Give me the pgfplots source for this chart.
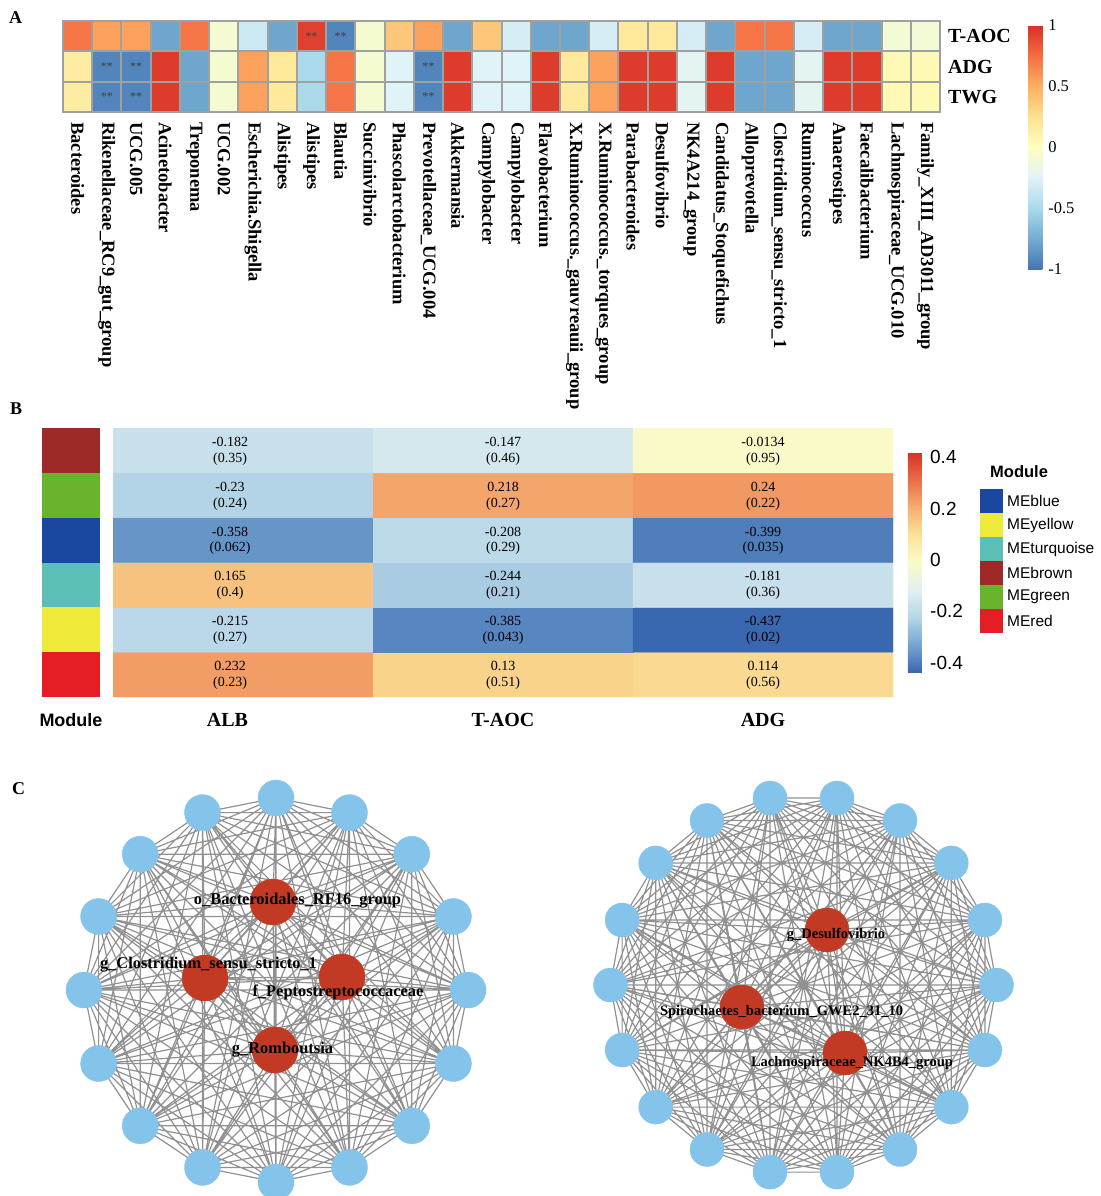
\documentclass[border=0pt]{standalone}
\usepackage{fontspec}
\setmainfont{Liberation Serif}
\setsansfont{Liberation Sans}
\usepackage{pgfplots}
\usepackage{pgfplotstable}
\pgfplotsset{compat=1.18}

\definecolor{gridgray}{RGB}{160,160,160}
\definecolor{nodeblue}{RGB}{133,196,234}
\definecolor{nodered}{RGB}{194,57,36}
\definecolor{edgegray}{RGB}{145,145,145}
\definecolor{meblue}{RGB}{26,71,160}
\definecolor{meyellow}{RGB}{238,234,58}
\definecolor{meturquoise}{RGB}{92,191,182}
\definecolor{mebrown}{RGB}{157,42,40}
\definecolor{megreen}{RGB}{106,180,45}
\definecolor{mered}{RGB}{228,30,36}

\pgfplotsset{
  colormap={rdylbu}{rgb255(0cm)=(69,117,180) rgb255(1cm)=(116,173,209) rgb255(2cm)=(171,217,233)
    rgb255(3cm)=(224,243,248) rgb255(4cm)=(255,255,191) rgb255(5cm)=(254,224,144)
    rgb255(6cm)=(253,174,97) rgb255(7cm)=(244,109,67) rgb255(8cm)=(215,48,39)},
  colormap={modcor}{rgb255(0cm)=(58,104,176) rgb255(1cm)=(120,165,208) rgb255(2cm)=(183,214,232)
    rgb255(3cm)=(226,240,240) rgb255(4cm)=(250,250,198) rgb255(5cm)=(251,226,152)
    rgb255(6cm)=(245,172,112) rgb255(7cm)=(232,110,72) rgb255(8cm)=(215,48,39)},
}

\newcommand\fz[2]{\fontsize{#1}{#2}\selectfont}

% A: correlation of genera with T-AOC / ADG / TWG (y=3,2,1)
\pgfplotstableread[row sep=\\]{
x y c\\
1 1 0.15\\ 2 1 -0.93\\ 3 1 -0.93\\ 4 1 0.95\\ 5 1 -0.78\\ 6 1 -0.08\\ 7 1 0.55\\ 8 1 0.18\\ 9 1 -0.5\\ 10 1 0.72\\
11 1 -0.08\\ 12 1 -0.25\\ 13 1 -0.93\\ 14 1 0.95\\ 15 1 -0.25\\ 16 1 -0.25\\ 17 1 0.95\\ 18 1 0.18\\ 19 1 0.55\\ 20 1 0.95\\
21 1 0.95\\ 22 1 -0.22\\ 23 1 0.95\\ 24 1 -0.78\\ 25 1 -0.78\\ 26 1 -0.22\\ 27 1 0.95\\ 28 1 0.95\\ 29 1 0.05\\ 30 1 0.05\\
1 2 0.15\\ 2 2 -0.93\\ 3 2 -0.93\\ 4 2 0.95\\ 5 2 -0.78\\ 6 2 -0.08\\ 7 2 0.55\\ 8 2 0.18\\ 9 2 -0.5\\ 10 2 0.72\\
11 2 -0.08\\ 12 2 -0.25\\ 13 2 -0.93\\ 14 2 0.95\\ 15 2 -0.25\\ 16 2 -0.25\\ 17 2 0.95\\ 18 2 0.18\\ 19 2 0.55\\ 20 2 0.95\\
21 2 0.95\\ 22 2 -0.22\\ 23 2 0.95\\ 24 2 -0.78\\ 25 2 -0.78\\ 26 2 -0.22\\ 27 2 0.95\\ 28 2 0.95\\ 29 2 0.05\\ 30 2 0.05\\
1 3 0.72\\ 2 3 0.55\\ 3 3 0.55\\ 4 3 -0.78\\ 5 3 0.72\\ 6 3 -0.08\\ 7 3 -0.35\\ 8 3 -0.78\\ 9 3 0.93\\ 10 3 -0.93\\
11 3 -0.08\\ 12 3 0.38\\ 13 3 0.55\\ 14 3 -0.78\\ 15 3 0.38\\ 16 3 -0.3\\ 17 3 -0.78\\ 18 3 -0.78\\ 19 3 -0.3\\ 20 3 0.18\\
21 3 0.18\\ 22 3 -0.3\\ 23 3 -0.78\\ 24 3 0.72\\ 25 3 0.72\\ 26 3 -0.3\\ 27 3 -0.78\\ 28 3 -0.78\\ 29 3 -0.1\\ 30 3 -0.1\\
}\heatA

% B: module-trait correlations
\pgfplotstableread{
x y c
1 1 0.232
2 1 0.13
3 1 0.114
1 2 -0.215
2 2 -0.385
3 2 -0.437
1 3 0.165
2 3 -0.244
3 3 -0.181
1 4 -0.358
2 4 -0.208
3 4 -0.399
1 5 -0.23
2 5 0.218
3 5 0.24
1 6 -0.182
2 6 -0.147
3 6 -0.0134
}\heatB

\pgfplotstableread{
x y r p
0.95 6 -0.182 0.35
2 6 -0.147 0.46
3 6 -0.0134 0.95
0.95 5 -0.23 0.24
2 5 0.218 0.27
3 5 0.24 0.22
0.95 4 -0.358 0.062
2 4 -0.208 0.29
3 4 -0.399 0.035
0.95 3 0.165 0.4
2 3 -0.244 0.21
3 3 -0.181 0.36
0.95 2 -0.215 0.27
2 2 -0.385 0.043
3 2 -0.437 0.02
0.95 1 0.232 0.23
2 1 0.13 0.51
3 1 0.114 0.56
}\labB

% C: network node positions (ring first, hubs last)
\pgfplotstableread{
x y
276 798
349.5 812.6
411.8 854.2
453.4 916.5
468 990
453.4 1063.5
411.8 1125.8
349.5 1167.4
276 1182
202.5 1167.4
140.2 1125.8
98.6 1063.5
84 990
98.6 916.5
140.2 854.2
202.5 812.6
273 902
205 978
342 977
275 1050
}\netL

\pgfplotstableread{
x y
837 798
900 820.5
951.3 862.9
984.9 920
996.5 985
984.9 1050
951.3 1107.1
900 1149.5
837 1172.1
770 1172.1
707 1149.5
655.7 1107.1
622.1 1050
610.5 985
622.1 920
655.7 862.9
707 820.5
770 798
827 930
742 1007
845 1053
}\netR

% every pair of nodes gets an edge
\newcommand\buildedges[2]{%
  \pgfplotstablegetrowsof{#1}%
  \pgfmathtruncatemacro\nlast{\pgfplotsretval-1}%
  \foreach \k in {0,...,\nlast}{%
    \pgfplotstablegetelem{\k}{x}\of#1\expandafter\xdef\csname ex\k\endcsname{\pgfplotsretval}%
    \pgfplotstablegetelem{\k}{y}\of#1\expandafter\xdef\csname ey\k\endcsname{\pgfplotsretval}%
  }%
  \gdef#2{}%
  \foreach \i in {0,...,\nlast}{%
    \foreach \j in {0,...,\nlast}{%
      \ifnum\j>\i
        \xdef#2{#2(\csname ex\i\endcsname,\csname ey\i\endcsname)(\csname ex\j\endcsname,\csname ey\j\endcsname)(nan,nan)}%
      \fi
    }%
  }%
}
\buildedges{\netL}{\edgesL}
\buildedges{\netR}{\edgesR}

\begin{document}
\begin{tikzpicture}
\path[use as bounding box] (0pt,0pt) rectangle (1100pt,-1196pt);

\node[anchor=base west, inner sep=0pt, font=\bfseries\fz{18}{20}] at (9pt,-24pt) {A};
\node[anchor=base west, inner sep=0pt, font=\bfseries\fz{18}{20}] at (10pt,-414pt) {B};
\node[anchor=base west, inner sep=0pt, font=\bfseries\fz{18}{20}] at (12pt,-794pt) {C};

% ---------- A ----------
\begin{axis}[
  at={(63pt,-112pt)}, anchor=south west,
  scale only axis, width=877pt, height=91pt,
  xmin=0.5, xmax=30.5, ymin=0.5, ymax=3.5,
  colormap name=rdylbu, point meta min=-1, point meta max=1,
  axis on top,
  axis line style={draw=gridgray, line width=2pt},
  major tick length=0pt, minor tick length=0pt,
  xtick={1,...,30},
  xticklabels={Bacteroides,Rikenellaceae\_RC9\_gut\_group,UCG.005,Acinetobacter,Treponema,UCG.002,Escherichia.Shigella,Alistipes,Alistipes,Blautia,Succinivibrio,Phascolarctobacterium,Prevotellaceae\_UCG.004,Akkermansia,Campylobacter,Campylobacter,Flavobacterium,X.Ruminococcus.\_gauvreauii\_group,X.Ruminococcus.\_torques\_group,Parabacteroides,Desulfovibrio,NK4A214\_group,Candidatus\_Stoquefichus,Alloprevotella,Clostridium\_sensu\_stricto\_1,Ruminococcus,Anaerostipes,Faecalibacterium,Lachnospiraceae\_UCG.010,Family\_XIII\_AD3011\_group},
  ytick={1,2,3}, yticklabels={TWG,ADG,T-AOC},
  yticklabel pos=right,
  minor xtick={0.5,1.5,...,30.5}, minor ytick={0.5,1.5,2.5,3.5},
  xminorgrids=true, yminorgrids=true,
  minor grid style={draw=gridgray, line width=2pt},
  xticklabel style={rotate=-90, anchor=west, inner xsep=10pt, inner ysep=0pt, font=\bfseries\fz{18.5}{20}},
  yticklabel style={anchor=west, inner xsep=8pt, inner ysep=0pt, font=\bfseries\fz{20}{22}},
  colorbar,
  colorbar style={
    at={(1.1004,0.956)}, anchor=north west,
    scale only axis, width=17pt, height=244pt,
    xtick=\empty, xminorgrids=false, yminorgrids=false,
    ytick={-1,-0.5,0,0.5,1}, yticklabels={-1,-0.5,0,0.5,1},
    major tick length=0pt, axis line style={draw=none},
    yticklabel style={anchor=west, inner xsep=3pt, inner ysep=0pt, font=\mdseries\fz{16.5}{18}},
  },
]
\addplot[matrix plot*, mesh/cols=30, point meta=explicit] table[meta=c] {\heatA};
\addplot[only marks, mark=none, nodes near coords={**},
  every node near coord/.append style={anchor=center, inner sep=0pt, text=black!75, font=\fz{12}{12}}]
  coordinates {(9,3) (10,3) (2,2) (3,2) (13,2) (2,1) (3,1) (13,1)};
\end{axis}

% ---------- B ----------
\begin{axis}[
  at={(42pt,-697pt)}, anchor=south west,
  scale only axis, width=58pt, height=269pt,
  xmin=0, xmax=1, ymin=0, ymax=6,
  axis line style={draw=none}, major tick length=0pt,
  ytick=\empty, xtick={0.5}, xticklabels={Module},
  xticklabel style={inner sep=0pt, yshift=-16pt, font=\sffamily\bfseries\fz{18}{20}},
]
\addplot[fill=mebrown, draw=none] coordinates {(0,5) (1,5) (1,6) (0,6)};
\addplot[fill=megreen, draw=none] coordinates {(0,4) (1,4) (1,5) (0,5)};
\addplot[fill=meblue, draw=none] coordinates {(0,3) (1,3) (1,4) (0,4)};
\addplot[fill=meturquoise, draw=none] coordinates {(0,2) (1,2) (1,3) (0,3)};
\addplot[fill=meyellow, draw=none] coordinates {(0,1) (1,1) (1,2) (0,2)};
\addplot[fill=mered, draw=none] coordinates {(0,0) (1,0) (1,1) (0,1)};
\end{axis}

\begin{axis}[
  at={(113pt,-697pt)}, anchor=south west,
  scale only axis, width=780pt, height=269pt,
  xmin=0.5, xmax=3.5, ymin=0.5, ymax=6.5,
  colormap name=modcor, point meta min=-0.437, point meta max=0.42,
  axis line style={draw=none}, major tick length=0pt,
  xtick={0.94,2,3}, xticklabels={ALB,T-AOC,ADG}, ytick=\empty,
  xticklabel style={inner sep=0pt, yshift=-16pt, font=\bfseries\fz{20}{22}},
  colorbar,
  colorbar style={
    at={(1.0192,0.9108)}, anchor=north west,
    scale only axis, width=14pt, height=220pt,
    xtick=\empty,
    ytick={-0.4,-0.2,0,0.2,0.4}, yticklabels={-0.4,-0.2,0,0.2,0.4},
    major tick length=0pt, axis line style={draw=none},
    yticklabel style={anchor=west, inner xsep=8pt, inner ysep=0pt, font=\sffamily\mdseries\fz{19}{22}},
  },
]
\addplot[matrix plot*, mesh/cols=3, point meta=explicit] table[meta=c] {\heatB};
\addplot[only marks, mark=none, point meta=explicit symbolic, nodes near coords,
  every node near coord/.append style={anchor=center, inner sep=0pt, text=black, yshift=8.5pt, font=\fz{14}{17}}]
  table[x=x, y=y, meta=r] {\labB};
\addplot[only marks, mark=none, point meta=explicit symbolic, nodes near coords={(\pgfplotspointmeta)},
  every node near coord/.append style={anchor=center, inner sep=0pt, text=black, yshift=-8.5pt, font=\fz{14}{17}}]
  table[x=x, y=y, meta=p] {\labB};
\end{axis}

% module legend
\begin{axis}[
  at={(980pt,-633pt)}, anchor=south west,
  scale only axis, width=23pt, height=144pt,
  xmin=0, xmax=1, ymin=0, ymax=6,
  axis line style={draw=none}, major tick length=0pt,
  xtick=\empty, ytick={0.5,1.5,2.5,3.5,4.5,5.5},
  yticklabels={MEred,MEgreen,MEbrown,MEturquoise,MEyellow,MEblue},
  yticklabel pos=right,
  yticklabel style={anchor=west, inner xsep=4pt, inner ysep=0pt, font=\sffamily\fz{15.5}{18}},
  title={Module},
  title style={at={(0,1)}, anchor=south west, inner sep=0pt, xshift=10pt, yshift=5pt, font=\sffamily\bfseries\fz{16.5}{18}},
]
\addplot[fill=meblue, draw=none] coordinates {(0,5) (1,5) (1,6) (0,6)};
\addplot[fill=meyellow, draw=none] coordinates {(0,4) (1,4) (1,5) (0,5)};
\addplot[fill=meturquoise, draw=none] coordinates {(0,3) (1,3) (1,4) (0,4)};
\addplot[fill=mebrown, draw=none] coordinates {(0,2) (1,2) (1,3) (0,3)};
\addplot[fill=megreen, draw=none] coordinates {(0,1) (1,1) (1,2) (0,2)};
\addplot[fill=mered, draw=none] coordinates {(0,0) (1,0) (1,1) (0,1)};
\end{axis}

% ---------- C ----------
\begin{axis}[
  at={(40pt,-1196pt)}, anchor=south west,
  scale only axis, width=500pt, height=436pt,
  xmin=40, xmax=540, ymin=760, ymax=1196, y dir=reverse,
  hide axis, unbounded coords=jump, clip marker paths=true,
]
\edef\tmp{\noexpand\addplot[draw=edgegray, line width=1.2pt] coordinates {\edgesL};}\tmp
\addplot[only marks, mark=*, mark size=18pt, color=nodeblue, mark options={fill=nodeblue, draw=nodeblue},
  skip coords between index={16}{20}] table[x=x, y=y] {\netL};
\addplot[only marks, mark=*, mark size=23pt, color=nodered, mark options={fill=nodered, draw=nodered},
  skip coords between index={0}{16}] table[x=x, y=y] {\netL};
\node[font=\bfseries\fz{16.4}{18}, inner sep=0pt] at (axis cs:297.5,901) {o\_Bacteroidales\_RF16\_group};
\node[font=\bfseries\fz{16.4}{18}, inner sep=0pt] at (axis cs:208.5,965) {g\_Clostridium\_sensu\_stricto\_1};
\node[font=\bfseries\fz{16.4}{18}, inner sep=0pt] at (axis cs:338,992) {f\_Peptostreptococcaceae};
\node[font=\bfseries\fz{16.4}{18}, inner sep=0pt] at (axis cs:282.5,1050) {g\_Romboutsia};
\end{axis}

\begin{axis}[
  at={(560pt,-1196pt)}, anchor=south west,
  scale only axis, width=540pt, height=436pt,
  xmin=560, xmax=1100, ymin=760, ymax=1196, y dir=reverse,
  hide axis, unbounded coords=jump, clip marker paths=true,
]
\edef\tmp{\noexpand\addplot[draw=edgegray, line width=1.2pt] coordinates {\edgesR};}\tmp
\addplot[only marks, mark=*, mark size=17pt, color=nodeblue, mark options={fill=nodeblue, draw=nodeblue},
  skip coords between index={18}{21}] table[x=x, y=y] {\netR};
\addplot[only marks, mark=*, mark size=22pt, color=nodered, mark options={fill=nodered, draw=nodered},
  skip coords between index={0}{18}] table[x=x, y=y] {\netR};
\node[font=\bfseries\fz{14.5}{16}, inner sep=0pt] at (axis cs:836,935) {g\_Desulfovibrio};
\node[font=\bfseries\fz{14.5}{16}, inner sep=0pt] at (axis cs:781.5,1012) {Spirochaetes\_bacterium\_GWE2\_31\_10};
\node[font=\bfseries\fz{14.5}{16}, inner sep=0pt] at (axis cs:852,1063) {Lachnospiraceae\_NK4B4\_group};
\end{axis}
\end{tikzpicture}
\end{document}
